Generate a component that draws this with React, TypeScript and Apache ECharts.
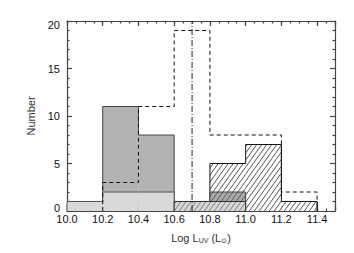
import React, { useEffect, useRef } from 'react';
import * as echarts from 'echarts';

// Histogram bins (left edges), width 0.2 in Log L_UV
const binStarts = [10.0, 10.2, 10.4, 10.6, 10.8, 11.0, 11.2];
const binWidth = 0.2;
const lightGrayCounts = [1, 2, 2, 0, 0, 0, 0];
const darkGrayCounts = [0, 11, 8, 0, 0, 0, 0];
const hatchedCounts = [0, 0, 0, 0, 5, 7, 1];
const hatchedDarkCounts = [0, 0, 0, 0, 2, 0, 0];
const hatchedLightCounts = [0, 0, 0, 1, 1, 0, 0];
const dashedCounts = [0, 3, 11, 19, 8, 8, 2];
const dividerX = 10.7;
const xMin = 10.0;
const xMax = 11.5;
const yMin = 0;
const yMax = 20;

function makeHatch(bg: string, line: string): HTMLCanvasElement {
  const w = 5;
  const h = 7;
  const c = document.createElement('canvas');
  c.width = w;
  c.height = h;
  const ctx = c.getContext('2d')!;
  ctx.fillStyle = bg;
  ctx.fillRect(0, 0, w, h);
  ctx.strokeStyle = line;
  ctx.lineWidth = 0.9;
  for (const dx of [-w, 0, w]) {
    ctx.beginPath();
    ctx.moveTo(dx, h);
    ctx.lineTo(dx + w, 0);
    ctx.stroke();
  }
  return c;
}

function histSeries(
  counts: number[],
  fill: any,
  stroke: string,
  lineWidth: number,
  dash: number[] | null,
  z: number
) {
  return {
    type: 'custom',
    z,
    silent: true,
    xAxisIndex: 0,
    yAxisIndex: 0,
    data: [0],
    renderItem: (_params: any, api: any) => {
      const children: any[] = [];
      if (fill) {
        counts.forEach((c, i) => {
          if (c > 0) {
            const p0 = api.coord([binStarts[i], 0]);
            const p1 = api.coord([binStarts[i] + binWidth, c]);
            children.push({
              type: 'rect',
              shape: { x: p0[0], y: p1[1], width: p1[0] - p0[0], height: p0[1] - p1[1] },
              style: { fill, stroke: null },
            });
          }
        });
      }
      let first = -1;
      let last = -1;
      counts.forEach((c, i) => {
        if (c > 0) {
          if (first < 0) first = i;
          last = i;
        }
      });
      if (first >= 0) {
        const pts: number[][] = [];
        pts.push(api.coord([binStarts[first], 0]));
        for (let i = first; i <= last; i++) {
          pts.push(api.coord([binStarts[i], counts[i]]));
          pts.push(api.coord([binStarts[i] + binWidth, counts[i]]));
        }
        pts.push(api.coord([binStarts[last] + binWidth, 0]));
        children.push({
          type: 'polyline',
          shape: { points: pts },
          style: { fill: null, stroke, lineWidth, lineDash: dash || undefined },
        });
      }
      return { type: 'group', children };
    },
  };
}

export default function App() {
  const ref = useRef<HTMLDivElement>(null);
  useEffect(() => {
    document.body.style.margin = '0';
    if (!ref.current) return;
    const chart = echarts.init(ref.current, null, { renderer: 'svg' });
    const frame = { color: '#444', width: 1.2 };
    const font = 'Liberation Sans, Arial, Helvetica, sans-serif';
    const hatchWhite = { image: makeHatch('#ffffff', '#444'), repeat: 'repeat' };
    const hatchLight = { image: makeHatch('#d6d6d6', '#777'), repeat: 'repeat' };
    const hatchDark = { image: makeHatch('#a9a9a9', '#555'), repeat: 'repeat' };

    const xCommon = {
      type: 'value',
      min: xMin,
      max: xMax,
      splitLine: { show: false },
      axisLine: { show: true, onZero: false, lineStyle: frame },
    };
    const option: any = {
      animation: false,
      grid: { left: 67, right: 19, top: 21, bottom: 42 },
      xAxis: [
        {
          ...xCommon,
          position: 'bottom',
          interval: 0.2,
          axisTick: { inside: true, length: 5, lineStyle: frame },
          axisLabel: {
            fontSize: 11,
            fontFamily: font,
            color: '#111',
            margin: 2,
            formatter: (v: number) => (Math.abs(v - xMax) < 1e-6 ? '' : v.toFixed(1)),
          },
          name: '{n|Log L}{s|UV}{n| (L}{s|\u2299}{n|)}',
          nameLocation: 'middle',
          nameGap: 20,
          nameTextStyle: {
            fontFamily: font,
            color: '#333',
            rich: {
              n: { fontSize: 11, fontFamily: font, color: '#333' },
              s: { fontSize: 7, fontFamily: font, color: '#333', padding: [6, 0, 0, 0] },
            },
          },
        },
        {
          ...xCommon,
          position: 'bottom',
          interval: 0.05,
          axisLine: { show: false, onZero: false },
          axisTick: { inside: true, length: 2.5, lineStyle: frame },
          axisLabel: { show: false },
        },
        {
          ...xCommon,
          position: 'top',
          interval: 0.2,
          axisTick: { inside: true, length: 5, lineStyle: frame },
          axisLabel: { show: false },
        },
        {
          ...xCommon,
          position: 'top',
          interval: 0.05,
          axisLine: { show: false, onZero: false },
          axisTick: { inside: true, length: 2.5, lineStyle: frame },
          axisLabel: { show: false },
        },
      ],
      yAxis: [
        {
          type: 'value',
          min: yMin,
          max: yMax,
          interval: 5,
          position: 'left',
          splitLine: { show: false },
          axisLine: { show: true, onZero: false, lineStyle: frame },
          axisTick: { inside: true, length: 5, lineStyle: frame },
          minorTick: { show: true, splitNumber: 5, length: 2.5, lineStyle: frame },
          axisLabel: {
            fontSize: 11,
            fontFamily: font,
            color: '#111',
            margin: 7,
            formatter: (v: number) =>
              v === yMax ? '{t|' + v + '}' : v === yMin ? '{b|' + v + '}' : String(v),
            rich: {
              t: { fontSize: 11, fontFamily: font, color: '#111', padding: [8, 0, 0, 0] },
              b: { fontSize: 11, fontFamily: font, color: '#111', padding: [0, 0, 7, 0] },
            },
          },
          name: 'Number',
          nameLocation: 'middle',
          nameGap: 25,
          nameTextStyle: { fontSize: 11, fontFamily: font, color: '#333' },
        },
        {
          type: 'value',
          min: yMin,
          max: yMax,
          interval: 5,
          position: 'right',
          splitLine: { show: false },
          axisLine: { show: true, onZero: false, lineStyle: frame },
          axisTick: { inside: true, length: 5, lineStyle: frame },
          minorTick: { show: true, splitNumber: 5, length: 2.5, lineStyle: frame },
          axisLabel: { show: false },
        },
      ],
      series: [
        histSeries(darkGrayCounts, '#b3b3b3', '#444', 1, null, 2),
        histSeries(lightGrayCounts, '#d9d9d9', '#555', 1, null, 3),
        histSeries(hatchedCounts, hatchWhite, '#111', 1, null, 4),
        histSeries(hatchedDarkCounts, hatchDark, '#444', 1, null, 5),
        histSeries(hatchedLightCounts, hatchLight, '#333', 1, null, 6),
        histSeries(dashedCounts, null, '#111', 1, [4, 3], 7),
        {
          type: 'custom',
          z: 8,
          silent: true,
          data: [0],
          renderItem: (_p: any, api: any) => {
            const a = api.coord([dividerX, yMin]);
            const b = api.coord([dividerX, yMax]);
            return {
              type: 'line',
              shape: { x1: a[0], y1: a[1], x2: b[0], y2: b[1] },
              style: { stroke: '#222', lineWidth: 1, lineDash: [6, 2, 1, 2] },
            };
          },
        },
      ],
    };
    chart.setOption(option);
    return () => chart.dispose();
  }, []);
  return <div ref={ref} style={{ width: 354, height: 253 }} />;
}
